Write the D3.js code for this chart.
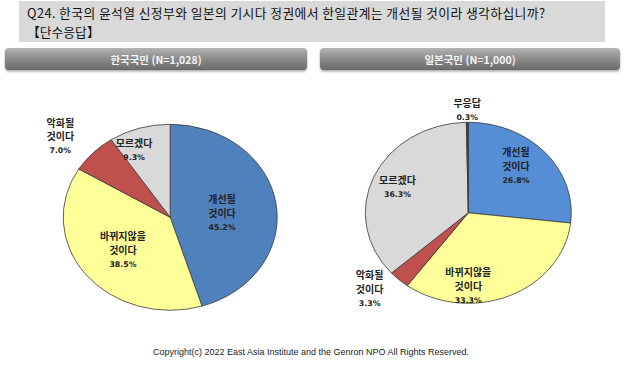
<!DOCTYPE html>
<html><head><meta charset="utf-8">
<script src="https://cdn.jsdelivr.net/npm/d3@7"></script>
<style>
html,body{margin:0;padding:0;background:#fff;}
svg{display:block;}
</style></head>
<body>
<svg id="c" width="624" height="366"></svg>
<script>
// ---- data ----
const titleLines = ["Q24. 한국의 윤석열 신정부와 일본의 기시다 정권에서 한일관계는 개선될 것이라 생각하십니까?", "【단수응답】"];
const panelTitles = ["한국국민 (N=1,028)", "일본국민 (N=1,000)"];
const koreaCategories = ["개선될 것이다", "바뀌지않을 것이다", "악화될 것이다", "모르겠다"];
const koreaValues = [45.2, 38.5, 7.0, 9.3];
const japanCategories = ["개선될 것이다", "바뀌지않을 것이다", "악화될 것이다", "모르겠다", "무응답"];
const japanValues = [26.8, 33.3, 3.3, 36.3, 0.3];
const copyright = "Copyright(c) 2022 East Asia Institute and the Genron NPO All Rights Reserved.";

// ---- layout / style ----
const colorMap = {"개선될 것이다":"#4F81BD","바뀌지않을 것이다":"#FFFF99","악화될 것이다":"#C0504D","모르겠다":"#D9D9D9","무응답":"#404040"};
const koreaColors = {"개선될 것이다":"#4F81BD"};
const japanColors = {"개선될 것이다":"#558ED5"};
const koreaLabelLayout = [ {f:0.49,dx:0,dy:3}, {f:0.56,dx:0,dy:1}, {f:1.4,dx:-2,dy:10}, {f:0.75,dx:-13,dy:0} ];
const japanLabelLayout = [ {f:0.62,dx:0,dy:-9}, {f:0.85,dx:-35,dy:3}, {f:1.25,dx:-12,dy:-7}, {f:0.75,dx:0,dy:2}, {f:1.13,dx:0,dy:0} ];

const svg = d3.select("#c");
const KR = "'Noto Sans CJK KR','Noto Sans',sans-serif";
const defs = svg.append("defs");
const grad = defs.append("linearGradient").attr("id","btn").attr("x1",0).attr("y1",0).attr("x2",0).attr("y2",1);
grad.append("stop").attr("offset","0%").attr("stop-color","#b4b4b4");
grad.append("stop").attr("offset","45%").attr("stop-color","#8e8e8e");
grad.append("stop").attr("offset","100%").attr("stop-color","#6a6a6a");
const shadow = defs.append("filter").attr("id","sh").attr("x","-5%").attr("y","-20%").attr("width","110%").attr("height","160%");
shadow.append("feDropShadow").attr("dx",0).attr("dy",1.5).attr("stdDeviation",1.2).attr("flood-color","#000").attr("flood-opacity",0.35);

// title box
svg.append("rect").attr("x",19).attr("y",1).attr("width",586).attr("height",41).attr("fill","#d9d9d9");
svg.selectAll("text.title").data(titleLines).join("text").attr("class","title")
  .attr("x",27).attr("y",(d,i)=>17.5+i*19).attr("font-family",KR).attr("font-size",12.8).attr("fill","#111")
  .each(function(d,i){ if(i===0) d3.select(this).attr("textLength",518).attr("lengthAdjust","spacing"); })
  .text(d=>d);

// panel headers
const btnX = [5, 320], btnW = [302, 300];
panelTitles.forEach((t,i)=>{
  svg.append("rect").attr("x",btnX[i]).attr("y",48).attr("width",btnW[i]).attr("height",22).attr("rx",4)
    .attr("fill","url(#btn)").attr("filter","url(#sh)");
  svg.append("text").attr("x",btnX[i]+btnW[i]/2).attr("y",63.5).attr("text-anchor","middle")
    .attr("font-family",KR).attr("font-size",10.5).attr("font-weight","bold").attr("fill","#f4f4f4").text(t);
});

function drawPie(cats, vals, cx, cy, rx, ry, overrides, layout){
  const pie = d3.pie().sort(null).value(d=>d.v);
  const data = pie(cats.map((c,i)=>({c, v: vals[i]})));
  const arc = d3.arc().innerRadius(0).outerRadius(rx);
  const g = svg.append("g").attr("transform",`translate(${cx},${cy}) scale(1,${ry/rx})`);
  g.selectAll("path").data(data).join("path").attr("d",arc)
    .attr("fill",d=>overrides[d.data.c]||colorMap[d.data.c])
    .attr("stroke","#3a3a3a").attr("stroke-width",0.8).attr("vector-effect","non-scaling-stroke");
  const lg = svg.append("g");
  data.forEach((d,i)=>{
    const a = (d.startAngle+d.endAngle)/2;
    const L = layout[i];
    const x = cx + Math.sin(a)*L.f*rx + L.dx;
    const y = cy - Math.cos(a)*L.f*ry + L.dy;
    const words = d.data.c.split(" ");
    const lines = words.map(w=>({t:w, pct:false})).concat([{t:d.data.v.toFixed(1)+"%", pct:true}]);
    const lh = 13.5;
    const y0 = y - (lines.length-1)*lh/2;
    lines.forEach((ln,k)=>{
      lg.append("text").attr("x",x).attr("y",y0+k*lh).attr("dy","0.35em").attr("text-anchor","middle")
        .attr("font-family", ln.pct ? "'DejaVu Sans',sans-serif" : KR)
        .attr("font-size", ln.pct ? 7.8 : 10).attr("font-weight","bold").attr("fill","#222").text(ln.t);
    });
  });
}

drawPie(koreaCategories, koreaValues, 170.2, 217.3, 107, 93, koreaColors, koreaLabelLayout);
drawPie(japanCategories, japanValues, 468.3, 212.8, 103, 90.5, japanColors, japanLabelLayout);

svg.append("text").attr("x",311).attr("y",355).attr("text-anchor","middle")
  .attr("font-family","'Liberation Sans',Arial,sans-serif").attr("font-size",9).attr("fill","#222").text(copyright);
</script>
</body></html>
